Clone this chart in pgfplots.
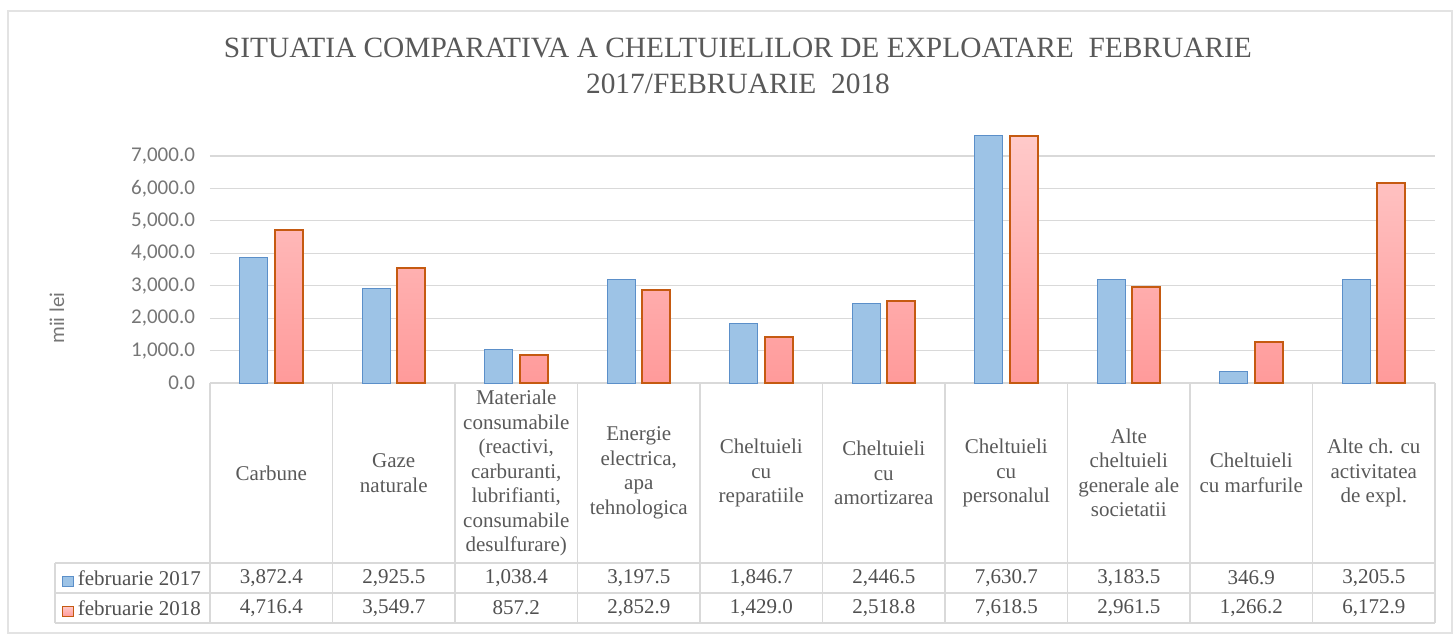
\documentclass[border=0pt]{standalone}
\usepackage{pgfplots}
\pgfplotsset{compat=1.18}
\usepackage{fontspec}
\setmainfont{Liberation Serif}
\newfontfamily\calibri{Carlito}
\definecolor{gridc}{HTML}{D9D9D9}
\definecolor{framec}{HTML}{E3E3E3}
\definecolor{titlec}{HTML}{595959}
\definecolor{tickc}{HTML}{767676}
\definecolor{textc}{HTML}{505050}
\definecolor{blueF}{HTML}{9DC3E6}
\definecolor{blueD}{HTML}{5B8FC9}
\definecolor{redT}{HTML}{FFCACA}
\definecolor{redB}{HTML}{FF9A9A}
\definecolor{redD}{HTML}{C55A11}
\pgfplotstableread{
x v2017 v2018
0 3872.4 4716.4
1 2925.5 3549.7
2 1038.4 857.2
3 3197.5 2852.9
4 1846.7 1429.0
5 2446.5 2518.8
6 7630.7 7618.5
7 3183.5 2961.5
8 346.9 1266.2
9 3205.5 6172.9
}\data
\begin{document}
\begin{tikzpicture}[x=1pt,y=1pt]
\path (0,0) rectangle (726.5,317);
\draw[framec, line width=1pt] (4,0.5) rectangle (726,311.5);
\node[font=\fontsize{14.7}{18}\selectfont, text=titlec, align=center] at (369,284)
  {SITUATIA COMPARATIVA A CHELTUIELILOR DE EXPLOATARE \ FEBRUARIE\\2017/FEBRUARIE \ 2018};
\node[font=\calibri\fontsize{10.5}{12}\selectfont, text=tickc, rotate=90] at (28.5,158) {mii lei};
\begin{axis}[
  at={(105pt,125.5pt)}, anchor=south west,
  scale only axis, width=612.5pt, height=126.5pt,
  xmin=-0.5, xmax=9.5, ymin=0, ymax=7800,
  clip=false,
  axis line style={draw=none},
  major tick length=0pt,
  ymajorgrids, grid style={gridc, line width=0.6pt},
  ytick={0,1000,...,7000},
  /pgf/number format/.cd, fixed, fixed zerofill, precision=1, 1000 sep={,}, assume math mode=true,
  /pgfplots/.cd,
  yticklabel style={font=\calibri\fontsize{10.5}{12}\selectfont, text=tickc, xshift=-4pt},
  xtick={0,...,9},
  xticklabels={
    {Carbune},
    {Gaze\\naturale},
    {Materiale\\consumabile\\(reactivi,\\carburanti,\\lubrifianti,\\consumabile\\desulfurare)},
    {Energie\\electrica,\\apa\\tehnologica},
    {Cheltuieli\\cu\\reparatiile},
    {Cheltuieli\\cu\\amortizarea},
    {Cheltuieli\\cu\\personalul},
    {Alte\\cheltuieli\\generale ale\\societatii},
    {Cheltuieli\\cu marfurile},
    {Alte ch. cu\\activitatea\\de expl.}},
  xticklabel style={font=\fontsize{10.5}{12.25}\selectfont, text=titlec, align=center, anchor=center, yshift=-45pt},
  legend style={at={(axis cs:-1.71,-5549)}, anchor=north west, yshift=-1.5pt, draw=none, fill=none,
    font=\fontsize{10.5}{12}\selectfont, text=textc, inner sep=0pt, row sep=0pt,
    nodes={inner sep=0pt, text height=9.5pt, text depth=5.5pt},
    /tikz/every odd column/.append style={column sep=2pt}},
  legend cell align=left,
  legend image code/.code={\draw[#1, line width=0.6pt] (0pt,-2.6pt) rectangle (5.2pt,2.6pt);},
]
\addplot[ybar, bar width=14pt, bar shift=-8.75pt, fill=blueF, draw=blueD, line width=0.5pt] table[x=x, y=v2017] {\data};
\addlegendentry{februarie 2017}
\addplot[ybar, bar width=14pt, bar shift=8.75pt, top color=redT, bottom color=redB, draw=redD, line width=1pt] table[x=x, y=v2018] {\data};
\addlegendentry{februarie 2018}
% table grid
\draw[gridc, line width=0.6pt] (axis cs:-1.765,-5549) -- (axis cs:9.5,-5549);
\draw[gridc, line width=0.6pt] (axis cs:-1.765,-6474) -- (axis cs:9.5,-6474);
\draw[gridc, line width=0.6pt] (axis cs:-1.765,-7399) -- (axis cs:9.5,-7399);
\draw[gridc, line width=0.6pt] (axis cs:-1.765,-5549) -- (axis cs:-1.765,-7399);
\draw[gridc, line width=0.6pt] (axis cs:-0.5,0) -- (axis cs:-0.5,-7399);
\draw[gridc, line width=0.6pt] (axis cs:0.5,0) -- (axis cs:0.5,-7399);
\draw[gridc, line width=0.6pt] (axis cs:1.5,0) -- (axis cs:1.5,-7399);
\draw[gridc, line width=0.6pt] (axis cs:2.5,0) -- (axis cs:2.5,-7399);
\draw[gridc, line width=0.6pt] (axis cs:3.5,0) -- (axis cs:3.5,-7399);
\draw[gridc, line width=0.6pt] (axis cs:4.5,0) -- (axis cs:4.5,-7399);
\draw[gridc, line width=0.6pt] (axis cs:5.5,0) -- (axis cs:5.5,-7399);
\draw[gridc, line width=0.6pt] (axis cs:6.5,0) -- (axis cs:6.5,-7399);
\draw[gridc, line width=0.6pt] (axis cs:7.5,0) -- (axis cs:7.5,-7399);
\draw[gridc, line width=0.6pt] (axis cs:8.5,0) -- (axis cs:8.5,-7399);
\draw[gridc, line width=0.6pt] (axis cs:9.5,0) -- (axis cs:9.5,-7399);
% table values
\begin{scope}[every node/.style={font=\fontsize{10.5}{12}\selectfont, text=textc}]
\node at (axis cs:0,-6012) {3,872.4};
\node at (axis cs:1,-6012) {2,925.5};
\node at (axis cs:2,-6012) {1,038.4};
\node at (axis cs:3,-6012) {3,197.5};
\node at (axis cs:4,-6012) {1,846.7};
\node at (axis cs:5,-6012) {2,446.5};
\node at (axis cs:6,-6012) {7,630.7};
\node at (axis cs:7,-6012) {3,183.5};
\node at (axis cs:8,-6012) {346.9};
\node at (axis cs:9,-6012) {3,205.5};
\node at (axis cs:0,-6937) {4,716.4};
\node at (axis cs:1,-6937) {3,549.7};
\node at (axis cs:2,-6937) {857.2};
\node at (axis cs:3,-6937) {2,852.9};
\node at (axis cs:4,-6937) {1,429.0};
\node at (axis cs:5,-6937) {2,518.8};
\node at (axis cs:6,-6937) {7,618.5};
\node at (axis cs:7,-6937) {2,961.5};
\node at (axis cs:8,-6937) {1,266.2};
\node at (axis cs:9,-6937) {6,172.9};
\end{scope}
\end{axis}
\end{tikzpicture}
\end{document}
